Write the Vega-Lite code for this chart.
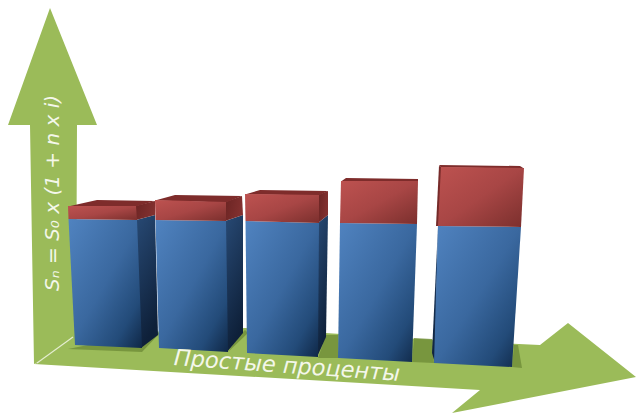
{"$schema":"https://vega.github.io/schema/vega-lite/v6.json","width":636,"height":414,"padding":0,"autosize":{"type":"fit","contains":"padding"},"background":"white","config":{"view":{"stroke":null}},
"datasets":{
"poly":[
{"k":"green","s":"up","i":0,"x":50,"y":8},{"k":"green","s":"up","i":1,"x":97,"y":125},{"k":"green","s":"up","i":2,"x":77,"y":125},{"k":"green","s":"up","i":3,"x":76,"y":345},{"k":"green","s":"up","i":4,"x":34,"y":364},{"k":"green","s":"up","i":5,"x":30,"y":125},{"k":"green","s":"up","i":6,"x":8,"y":125},
{"k":"green","s":"right","i":0,"x":37,"y":363},{"k":"green","s":"right","i":1,"x":73,"y":335},{"k":"green","s":"right","i":2,"x":245,"y":328},{"k":"green","s":"right","i":3,"x":420,"y":339},{"k":"green","s":"right","i":4,"x":540,"y":345},{"k":"green","s":"right","i":5,"x":568,"y":323},{"k":"green","s":"right","i":6,"x":636,"y":377},{"k":"green","s":"right","i":7,"x":452,"y":413},{"k":"green","s":"right","i":8,"x":480,"y":390},{"k":"green","s":"right","i":9,"x":34,"y":364},
{"k":"shadow","s":"a","i":0,"x":68,"y":349},{"k":"shadow","s":"a","i":1,"x":142,"y":352},{"k":"shadow","s":"a","i":2,"x":160,"y":333},{"k":"shadow","s":"a","i":3,"x":148,"y":333},
{"k":"shadow","s":"b","i":0,"x":228,"y":352},{"k":"shadow","s":"b","i":1,"x":248,"y":333},{"k":"shadow","s":"b","i":2,"x":245,"y":330},{"k":"shadow","s":"b","i":3,"x":240,"y":335},
{"k":"shadow","s":"c","i":0,"x":318,"y":358},{"k":"shadow","s":"c","i":1,"x":338,"y":358},{"k":"shadow","s":"c","i":2,"x":338,"y":335},{"k":"shadow","s":"c","i":3,"x":326,"y":335},
{"k":"shadow","s":"d","i":0,"x":412,"y":362},{"k":"shadow","s":"d","i":1,"x":434,"y":363},{"k":"shadow","s":"d","i":2,"x":432,"y":339},{"k":"shadow","s":"d","i":3,"x":414,"y":338},
{"k":"shadow","s":"e","i":0,"x":512,"y":367},{"k":"shadow","s":"e","i":1,"x":522,"y":368},{"k":"shadow","s":"e","i":2,"x":518,"y":345},{"k":"shadow","s":"e","i":3,"x":514,"y":345},
{"k":"blueS","s":"1","i":0,"x":136,"y":220},{"k":"blueS","s":"1","i":1,"x":155,"y":215},{"k":"blueS","s":"1","i":2,"x":158,"y":335},{"k":"blueS","s":"1","i":3,"x":141,"y":348},
{"k":"blueS","s":"2","i":0,"x":225,"y":221},{"k":"blueS","s":"2","i":1,"x":243,"y":215},{"k":"blueS","s":"2","i":2,"x":243,"y":333},{"k":"blueS","s":"2","i":3,"x":227,"y":352},
{"k":"blueS","s":"3","i":0,"x":318,"y":223},{"k":"blueS","s":"3","i":1,"x":328,"y":215},{"k":"blueS","s":"3","i":2,"x":326,"y":337},{"k":"blueS","s":"3","i":3,"x":317,"y":357},
{"k":"blueS","s":"5","i":0,"x":438,"y":226},{"k":"blueS","s":"5","i":1,"x":432,"y":353},{"k":"blueS","s":"5","i":2,"x":435,"y":363},
{"k":"redS","s":"1","i":0,"x":135,"y":206},{"k":"redS","s":"1","i":1,"x":155,"y":201},{"k":"redS","s":"1","i":2,"x":155,"y":215},{"k":"redS","s":"1","i":3,"x":136,"y":220},
{"k":"redS","s":"2","i":0,"x":225,"y":202},{"k":"redS","s":"2","i":1,"x":242,"y":196},{"k":"redS","s":"2","i":2,"x":243,"y":215},{"k":"redS","s":"2","i":3,"x":225,"y":221},
{"k":"redS","s":"3","i":0,"x":318,"y":195},{"k":"redS","s":"3","i":1,"x":328,"y":191},{"k":"redS","s":"3","i":2,"x":328,"y":215},{"k":"redS","s":"3","i":3,"x":318,"y":223},
{"k":"redS","s":"5","i":0,"x":439,"y":166},{"k":"redS","s":"5","i":1,"x":442,"y":167},{"k":"redS","s":"5","i":2,"x":439,"y":226},{"k":"redS","s":"5","i":3,"x":436,"y":226},
{"k":"redT","s":"1","i":0,"x":68,"y":206.5},{"k":"redT","s":"1","i":1,"x":97,"y":200},{"k":"redT","s":"1","i":2,"x":155,"y":201},{"k":"redT","s":"1","i":3,"x":136,"y":206.5},
{"k":"redT","s":"2","i":0,"x":155,"y":200.5},{"k":"redT","s":"2","i":1,"x":175,"y":195},{"k":"redT","s":"2","i":2,"x":242,"y":196},{"k":"redT","s":"2","i":3,"x":226,"y":202.5},
{"k":"redT","s":"3","i":0,"x":245,"y":194.5},{"k":"redT","s":"3","i":1,"x":260,"y":190},{"k":"redT","s":"3","i":2,"x":328,"y":191},{"k":"redT","s":"3","i":3,"x":319,"y":195.5},
{"k":"redT","s":"4","i":0,"x":341,"y":181.5},{"k":"redT","s":"4","i":1,"x":346,"y":178},{"k":"redT","s":"4","i":2,"x":418,"y":179},{"k":"redT","s":"4","i":3,"x":418,"y":181.5},
{"k":"redT","s":"5","i":0,"x":441,"y":167.5},{"k":"redT","s":"5","i":1,"x":439,"y":165},{"k":"redT","s":"5","i":2,"x":520,"y":166},{"k":"redT","s":"5","i":3,"x":524,"y":168.5},
{"k":"blueF","s":"1","i":0,"x":68.5,"y":219},{"k":"blueF","s":"1","i":1,"x":137,"y":220},{"k":"blueF","s":"1","i":2,"x":142,"y":348},{"k":"blueF","s":"1","i":3,"x":75,"y":345},
{"k":"blueF","s":"2","i":0,"x":155.5,"y":220},{"k":"blueF","s":"2","i":1,"x":226,"y":221},{"k":"blueF","s":"2","i":2,"x":228,"y":352},{"k":"blueF","s":"2","i":3,"x":159,"y":348},
{"k":"blueF","s":"3","i":0,"x":245.5,"y":221},{"k":"blueF","s":"3","i":1,"x":319,"y":223},{"k":"blueF","s":"3","i":2,"x":318,"y":357},{"k":"blueF","s":"3","i":3,"x":247,"y":353},
{"k":"blueF","s":"4","i":0,"x":340,"y":223},{"k":"blueF","s":"4","i":1,"x":417,"y":224},{"k":"blueF","s":"4","i":2,"x":412,"y":362},{"k":"blueF","s":"4","i":3,"x":338,"y":358},
{"k":"blueF","s":"5","i":0,"x":438,"y":226},{"k":"blueF","s":"5","i":1,"x":521,"y":227},{"k":"blueF","s":"5","i":2,"x":512,"y":367},{"k":"blueF","s":"5","i":3,"x":434,"y":363},
{"k":"redF","s":"1","i":0,"x":68,"y":206},{"k":"redF","s":"1","i":1,"x":136,"y":206},{"k":"redF","s":"1","i":2,"x":137,"y":220},{"k":"redF","s":"1","i":3,"x":68.5,"y":219},
{"k":"redF","s":"2","i":0,"x":155,"y":200},{"k":"redF","s":"2","i":1,"x":226,"y":202},{"k":"redF","s":"2","i":2,"x":226,"y":221},{"k":"redF","s":"2","i":3,"x":155.5,"y":220},
{"k":"redF","s":"3","i":0,"x":245,"y":194},{"k":"redF","s":"3","i":1,"x":319,"y":195},{"k":"redF","s":"3","i":2,"x":319,"y":223},{"k":"redF","s":"3","i":3,"x":245.5,"y":221},
{"k":"redF","s":"4","i":0,"x":341,"y":181},{"k":"redF","s":"4","i":1,"x":418,"y":181},{"k":"redF","s":"4","i":2,"x":417,"y":224},{"k":"redF","s":"4","i":3,"x":340,"y":223},
{"k":"redF","s":"5","i":0,"x":441,"y":167},{"k":"redF","s":"5","i":1,"x":524,"y":168},{"k":"redF","s":"5","i":2,"x":521,"y":227},{"k":"redF","s":"5","i":3,"x":438,"y":226}
],
"corner":[{"x":37,"y":363},{"x":73,"y":337}],
"labels":[{"t":"Простые проценты","x":287,"y":366,"a":4,"z":22.5},{"t":"Sₙ = S₀ x (1 + n x i)","x":53,"y":193,"a":270,"z":20}]
},
"encoding":{"x":{"field":"x","type":"quantitative","scale":{"domain":[0,636],"nice":false,"zero":false},"axis":null},"y":{"field":"y","type":"quantitative","scale":{"domain":[414,0],"nice":false,"zero":false},"axis":null}},
"layer":[
{"data":{"name":"poly"},"transform":[{"filter":"datum.k=='green'"}],"mark":{"type":"line","fill":"#9bbb59","strokeWidth":0},"encoding":{"detail":{"field":"s"},"order":{"field":"i"}}},
{"data":{"name":"corner"},"mark":{"type":"line","stroke":"#e4edd0","strokeWidth":1.2},"encoding":{}},
{"data":{"name":"poly"},"transform":[{"filter":"datum.k=='shadow'"}],"mark":{"type":"line","fill":"#6c8a35","fillOpacity":0.75,"strokeWidth":0},"encoding":{"detail":{"field":"s"},"order":{"field":"i"}}},
{"data":{"name":"poly"},"transform":[{"filter":"datum.k=='blueS'"}],"mark":{"type":"line","strokeWidth":0,"fill":{"gradient":"linear","x1":0,"y1":0,"x2":0.3,"y2":1,"stops":[{"offset":0,"color":"#284a75"},{"offset":1,"color":"#0e2039"}]}},"encoding":{"detail":{"field":"s"},"order":{"field":"i"}}},
{"data":{"name":"poly"},"transform":[{"filter":"datum.k=='redS'"}],"mark":{"type":"line","strokeWidth":0,"fill":{"gradient":"linear","x1":0,"y1":0,"x2":1,"y2":0.3,"stops":[{"offset":0,"color":"#6a2423"},{"offset":1,"color":"#82302f"}]}},"encoding":{"detail":{"field":"s"},"order":{"field":"i"}}},
{"data":{"name":"poly"},"transform":[{"filter":"datum.k=='redT'"}],"mark":{"type":"line","strokeWidth":0,"fill":"#7e2c2b"},"encoding":{"detail":{"field":"s"},"order":{"field":"i"}}},
{"data":{"name":"poly"},"transform":[{"filter":"datum.k=='blueF'"}],"mark":{"type":"line","strokeWidth":0,"fill":{"gradient":"linear","x1":0,"y1":0,"x2":1,"y2":1,"stops":[{"offset":0,"color":"#5083c0"},{"offset":0.5,"color":"#3a689f"},{"offset":0.8,"color":"#234b79"},{"offset":1,"color":"#0f2746"}]}},"encoding":{"detail":{"field":"s"},"order":{"field":"i"}}},
{"data":{"name":"poly"},"transform":[{"filter":"datum.k=='redF'"}],"mark":{"type":"line","strokeWidth":0,"fill":{"gradient":"linear","x1":0,"y1":0,"x2":1,"y2":1,"stops":[{"offset":0,"color":"#bd5250"},{"offset":0.5,"color":"#a84645"},{"offset":0.85,"color":"#883634"},{"offset":1,"color":"#7c2e2d"}]}},"encoding":{"detail":{"field":"s"},"order":{"field":"i"}}},
{"data":{"name":"labels"},"mark":{"type":"text","font":"DejaVu Sans","fontStyle":"italic","color":"#f4f7ea","align":"center","baseline":"middle"},"encoding":{"text":{"field":"t"},"size":{"field":"z","type":"quantitative","scale":null},"angle":{"field":"a","type":"quantitative","scale":null}}}
]}
